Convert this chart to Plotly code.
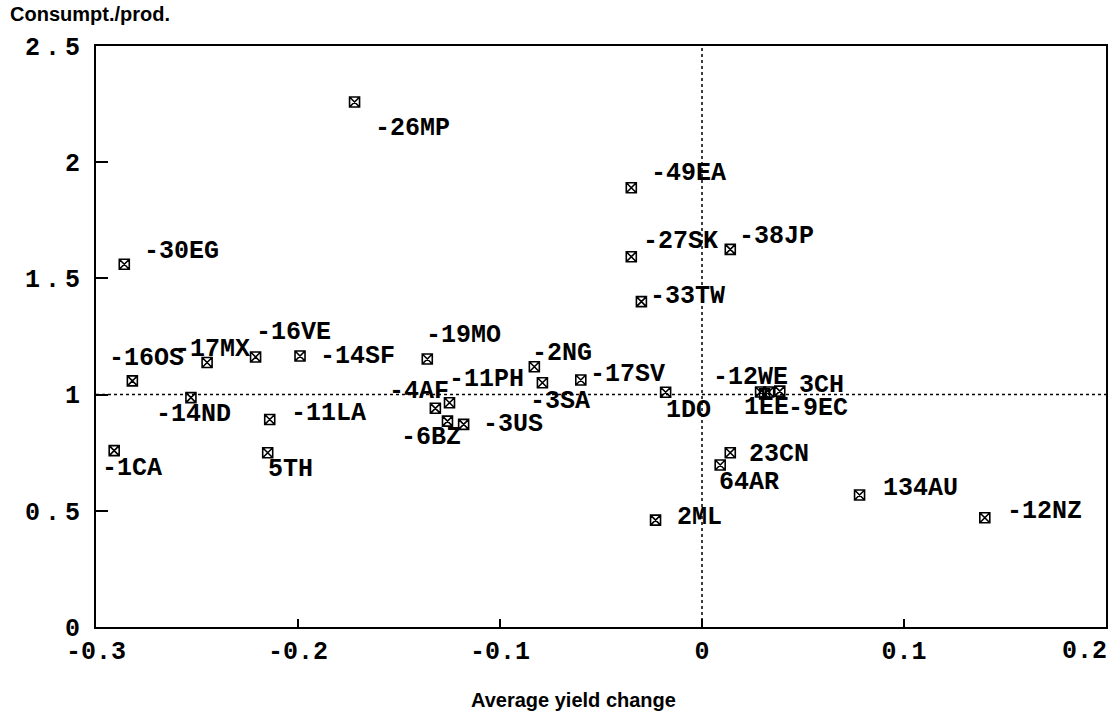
import plotly.graph_objects as go

# ---- data ----
codes = ["MP", "EA", "SK", "JP", "TW", "EG", "OS", "MX", "VE", "SF", "ND", "LA",
         "CA", "TH", "MO", "NG", "SA", "SV", "PH", "AF", "BZ", "US", "DO", "WE",
         "EE", "EC", "CH", "CN", "AR", "ML", "AU", "NZ"]
changes = [-26, -49, -27, -38, -33, -30, -16, -17, -16, -14, -14, -11,
           -1, 5, -19, -2, -3, -17, -11, -4, -6, -3, 1, -12,
           1, -9, 3, 23, 64, 2, 134, -12]
yield_change = [-0.172, -0.035, -0.035, 0.014, -0.030, -0.286, -0.282, -0.245, -0.221, -0.199, -0.253, -0.214,
                -0.291, -0.215, -0.136, -0.083, -0.079, -0.060, -0.125, -0.132, -0.126, -0.118, -0.018, 0.029,
                0.031, 0.033, 0.0385, 0.014, 0.009, -0.023, 0.078, 0.140]
cons_prod = [2.259, 1.890, 1.593, 1.625, 1.400, 1.561, 1.059, 1.138, 1.162, 1.166, 0.987, 0.893,
             0.759, 0.750, 1.153, 1.120, 1.051, 1.063, 0.965, 0.941, 0.886, 0.872, 1.010, 1.011,
             1.003, 1.011, 1.015, 0.750, 0.697, 0.460, 0.568, 0.470]

x_ticks = [-0.3, -0.2, -0.1, 0, 0.1, 0.2]
x_ticktext = ["-0.3", "-0.2", "-0.1", "0", "0.1", "0.2"]
y_ticks = [0, 0.5, 1, 1.5, 2, 2.5]
y_ticktext = ["0", "0.5", "1", "1.5", "2", "2.5"]

# label offsets in pixels (dx right, dy down) relative to marker
label_offsets = [(18, 26), (18, -14), (10, -15), (7, -13), (7, -5), (18, -13), (-25, -22), (-34, -13),
                 (-2, -24), (18, 0), (-37, 17), (19, -6), (-14, 18), (-2, 17), (-3, -24), (-4, -13),
                 (-14, 19), (7, -5), (-3, -23), (-48, -17), (-48, 16), (17, 0), (-2, 18), (-50, -15),
                 (-23, 14), (17, 16), (17, -6), (17, 2), (-3, 17), (19, -3), (21, -7), (20, -6)]

labels = [f"{c}{k}" for c, k in zip(changes, codes)]

MONO = "Liberation Mono"
SANS = "Liberation Sans"
tick_font = dict(family=MONO, size=25, color="black", weight="bold")

fig = go.Figure()
fig.add_trace(go.Scatter(
    x=yield_change, y=cons_prod, mode="markers",
    marker=dict(symbol="square-x-open", size=10, color="black", line=dict(width=1.6, color="black")),
    hoverinfo="skip", showlegend=False,
))

for xv, yv, lab, (dx, dy) in zip(yield_change, cons_prod, labels, label_offsets):
    fig.add_annotation(x=xv, y=yv, text=lab, showarrow=False, xanchor="left", yanchor="middle",
                       xshift=dx, yshift=-dy,
                       font=dict(family=MONO, size=25, color="black", weight="bold"))

# reference lines
fig.add_shape(type="line", x0=-0.3, x1=0.2, y0=1, y1=1, xref="x", yref="y",
              line=dict(color="black", width=1.5, dash="dot"), layer="below")
fig.add_shape(type="line", x0=0, x1=0, y0=0, y1=2.5, xref="x", yref="y",
              line=dict(color="black", width=1.5, dash="dot"), layer="below")

# last x tick label (kept inside the page, as in the original)
fig.add_annotation(text=x_ticktext[-1], x=x_ticks[-1], xref="x", yref="paper", y=-0.043,
                   xanchor="right", yanchor="middle", xshift=3, showarrow=False, font=tick_font)

# axis titles
fig.add_annotation(text="Consumpt./prod.", xref="paper", yref="paper", x=-0.087, y=1.055,
                   xanchor="left", yanchor="middle", showarrow=False,
                   font=dict(family=SANS, size=20, color="black", weight="bold"))
fig.add_annotation(text="Average yield change", xref="paper", yref="paper", x=0.473, y=-0.126,
                   xanchor="center", yanchor="middle", showarrow=False,
                   font=dict(family=SANS, size=20, color="black", weight="bold"))

y_ticktext_spaced = [f'<span style="letter-spacing:5px">{t}</span>' for t in y_ticktext]

fig.update_layout(
    width=1120, height=717,
    margin=dict(l=96, r=12, t=46, b=90),
    paper_bgcolor="white", plot_bgcolor="white",
    xaxis=dict(range=[-0.3, 0.2], tickvals=x_ticks[:-1], ticktext=x_ticktext[:-1], showgrid=False, zeroline=False,
               showline=True, mirror=True, linecolor="black", linewidth=2,
               ticks="inside", ticklen=8, tickcolor="black", tickwidth=1.5,
               tickfont=tick_font),
    yaxis=dict(range=[0, 2.5], tickvals=y_ticks, ticktext=y_ticktext_spaced, showgrid=False, zeroline=False,
               showline=True, mirror=True, linecolor="black", linewidth=2,
               ticks="inside", ticklen=12, tickcolor="black", tickwidth=1.5,
               ticklabelstandoff=4, tickfont=tick_font),
)

fig.write_html("out.html")
